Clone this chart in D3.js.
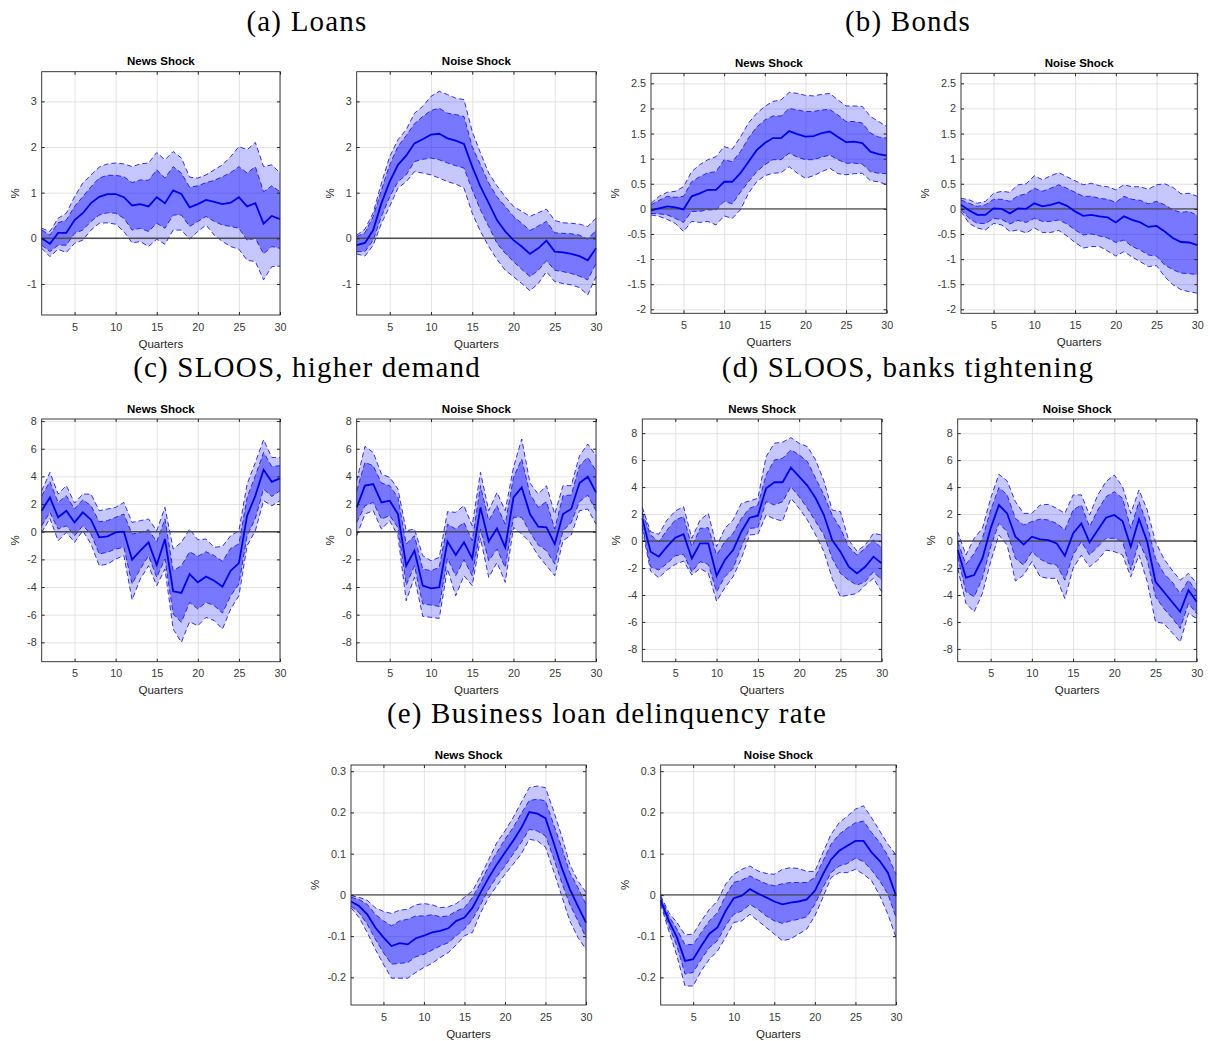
<!DOCTYPE html>
<html>
<head>
<meta charset="utf-8">
<script src="https://cdn.jsdelivr.net/npm/d3@7"></script>
<style>
  body { margin: 0; background: #fff; }
  svg { display: block; font-family: "Liberation Sans", Arial, Helvetica, sans-serif; }
  .heading { font-family: "Liberation Serif", "Times New Roman", serif; font-size: 29px; letter-spacing: 1.2px; fill: #000; }
  .ptitle { font-size: 11.5px; font-weight: bold; fill: #000; }
  .xlab, .ylab { font-size: 11.5px; fill: #262626; }
  .tick text { font-size: 10.8px; fill: #3a3a3a; }
</style>
</head>
<body>
<div id="chart"></div>
<script>
//quarters on the x axis and tick labels
const quarters = [1,2,3,4,5,6,7,8,9,10,11,12,13,14,15,16,17,18,19,20,21,22,23,24,25,26,27,28,29,30];
const quarterTicks = [5, 10, 15, 20, 25, 30];
const loansTicks = [-1, 0, 1, 2, 3];
const bondsTicks = [-2, -1.5, -1, -0.5, 0, 0.5, 1, 1.5, 2, 2.5];
const sloosTicks = [-8, -6, -4, -2, 0, 2, 4, 6, 8];
const delinqTicks = [-0.2, -0.1, 0, 0.1, 0.2, 0.3];

//panel headings
const headings = ["(a) Loans", "(b) Bonds", "(c) SLOOS, higher demand", "(d) SLOOS, banks tightening", "(e) Business loan delinquency rate"];

//(a) loans, news shock
const loansNewsMed = [0.0,-0.12,0.12,0.12,0.4,0.55,0.77,0.91,0.97,0.97,0.9,0.72,0.75,0.7,0.9,0.77,1.05,0.97,0.68,0.75,0.84,0.8,0.75,0.78,0.9,0.7,0.77,0.32,0.49,0.42];
const loansNewsHi68 = [0.18,0.07,0.34,0.4,0.7,0.91,1.13,1.32,1.38,1.38,1.35,1.22,1.28,1.27,1.5,1.32,1.57,1.43,1.12,1.15,1.22,1.27,1.35,1.44,1.57,1.43,1.57,1.02,1.15,1.02];
const loansNewsLo68 = [-0.15,-0.29,-0.15,-0.15,0.11,0.18,0.37,0.51,0.56,0.55,0.44,0.18,0.22,0.15,0.33,0.22,0.51,0.51,0.26,0.37,0.48,0.37,0.29,0.26,0.22,-0.04,0.0,-0.34,-0.18,-0.22];
const loansNewsHi90 = [0.22,0.15,0.44,0.55,0.91,1.21,1.39,1.56,1.63,1.65,1.63,1.57,1.63,1.65,1.88,1.72,1.9,1.76,1.34,1.32,1.39,1.5,1.61,1.79,2.01,1.94,2.1,1.57,1.61,1.43];
const loansNewsLo90 = [-0.22,-0.4,-0.24,-0.31,-0.11,-0.04,0.18,0.33,0.34,0.31,0.15,-0.1,-0.07,-0.18,-0.02,-0.13,0.18,0.18,-0.02,0.15,0.29,0.07,-0.07,-0.18,-0.24,-0.48,-0.51,-0.91,-0.62,-0.61];

//(a) loans, noise shock
const loansNoiseMed = [-0.15,-0.1,0.18,0.77,1.24,1.61,1.81,2.08,2.17,2.27,2.29,2.19,2.14,2.07,1.57,1.13,0.77,0.4,0.15,-0.04,-0.18,-0.34,-0.22,-0.05,-0.29,-0.31,-0.34,-0.39,-0.48,-0.22];
const loansNoiseHi68 = [0.04,0.12,0.48,1.06,1.61,2.01,2.25,2.51,2.67,2.8,2.85,2.74,2.71,2.67,2.01,1.61,1.21,0.91,0.7,0.48,0.33,0.17,0.27,0.37,0.12,0.11,0.1,0.07,-0.02,0.18];
const loansNoiseLo68 = [-0.29,-0.29,-0.04,0.48,0.91,1.24,1.39,1.68,1.73,1.76,1.72,1.65,1.59,1.54,1.06,0.62,0.26,-0.11,-0.33,-0.51,-0.68,-0.84,-0.7,-0.49,-0.7,-0.73,-0.77,-0.83,-0.91,-0.55];
const loansNoiseHi90 = [0.07,0.2,0.56,1.21,1.79,2.16,2.38,2.74,2.89,3.11,3.22,3.15,3.07,3.04,2.34,1.87,1.43,1.15,0.91,0.7,0.59,0.48,0.56,0.64,0.39,0.34,0.33,0.31,0.26,0.44];
const loansNoiseLo90 = [-0.34,-0.39,-0.15,0.33,0.7,1.1,1.24,1.46,1.43,1.39,1.32,1.24,1.19,1.1,0.55,0.15,-0.18,-0.46,-0.7,-0.84,-0.99,-1.15,-0.99,-0.73,-0.95,-0.99,-1.02,-1.08,-1.24,-0.84];

//(b) bonds, news shock
const bondsNewsMed = [-0.03,0.01,0.05,0.03,-0.01,0.25,0.31,0.38,0.38,0.54,0.54,0.71,0.94,1.17,1.31,1.41,1.41,1.55,1.49,1.44,1.45,1.51,1.54,1.43,1.33,1.34,1.31,1.14,1.09,1.06];
const bondsNewsHi68 = [0.08,0.17,0.25,0.23,0.25,0.54,0.64,0.72,0.74,0.98,0.94,1.14,1.41,1.63,1.77,1.85,1.85,2.0,1.97,1.94,1.94,1.97,1.98,1.87,1.74,1.74,1.71,1.51,1.43,1.41];
const bondsNewsLo68 = [-0.09,-0.1,-0.12,-0.19,-0.27,-0.05,-0.05,-0.02,-0.02,0.15,0.1,0.33,0.54,0.74,0.88,0.98,0.98,1.11,1.03,0.98,0.98,1.03,1.07,0.98,0.91,0.91,0.89,0.74,0.71,0.7];
const bondsNewsHi90 = [0.11,0.25,0.33,0.35,0.44,0.74,0.88,0.98,1.04,1.24,1.19,1.43,1.71,1.9,2.04,2.14,2.17,2.32,2.3,2.26,2.25,2.28,2.3,2.17,2.05,2.05,2.04,1.84,1.74,1.64];
const bondsNewsLo90 = [-0.12,-0.15,-0.21,-0.29,-0.45,-0.25,-0.27,-0.25,-0.32,-0.14,-0.19,-0.02,0.31,0.54,0.66,0.71,0.72,0.84,0.71,0.61,0.66,0.74,0.81,0.7,0.68,0.7,0.71,0.56,0.54,0.48];

//(b) bonds, noise shock
const bondsNoiseMed = [0.08,-0.03,-0.12,-0.12,0.01,0,-0.09,0.01,0,0.11,0.05,0.08,0.13,0.06,-0.05,-0.14,-0.12,-0.15,-0.17,-0.27,-0.15,-0.22,-0.27,-0.36,-0.34,-0.45,-0.58,-0.66,-0.67,-0.72];
const bondsNoiseHi68 = [0.18,0.11,0.05,0.08,0.19,0.19,0.15,0.26,0.3,0.41,0.35,0.41,0.48,0.41,0.33,0.25,0.25,0.21,0.19,0.13,0.25,0.19,0.17,0.1,0.15,0.08,-0.02,-0.07,-0.05,-0.13];
const bondsNoiseLo68 = [-0.01,-0.19,-0.29,-0.29,-0.19,-0.21,-0.3,-0.23,-0.27,-0.19,-0.25,-0.25,-0.22,-0.3,-0.42,-0.52,-0.5,-0.54,-0.58,-0.67,-0.62,-0.75,-0.82,-0.92,-0.94,-1.12,-1.21,-1.28,-1.29,-1.31];
const bondsNoiseHi90 = [0.21,0.18,0.11,0.15,0.31,0.35,0.33,0.48,0.5,0.66,0.58,0.66,0.72,0.64,0.56,0.48,0.51,0.46,0.44,0.38,0.48,0.44,0.44,0.39,0.48,0.5,0.43,0.3,0.31,0.25];
const bondsNoiseLo90 = [-0.05,-0.29,-0.38,-0.42,-0.29,-0.32,-0.45,-0.42,-0.48,-0.38,-0.47,-0.47,-0.43,-0.54,-0.67,-0.78,-0.75,-0.75,-0.84,-0.94,-0.85,-0.96,-1.05,-1.15,-1.13,-1.35,-1.51,-1.61,-1.65,-1.68];

//(c) SLOOS higher demand, news shock
const demandNewsMed = [1.52,2.48,1.04,1.52,0.67,1.4,0.87,-0.41,-0.34,-0.05,0,-2.02,-1.37,-0.77,-2.41,-0.53,-4.31,-4.43,-3.06,-3.66,-3.25,-3.54,-3.98,-2.82,-2.27,1.16,2.6,4.48,3.61,3.86];
const demandNewsHi68 = [2.6,3.61,2.12,2.6,1.64,2.31,1.88,0.72,0.8,1.04,1.28,-0.17,-0.05,0.14,-0.72,0.92,-2.82,-2.46,-1.45,-1.78,-1.45,-1.73,-2.14,-1.2,-0.89,2.48,4.05,5.73,4.72,4.77];
const demandNewsLo68 = [0.43,1.4,0.19,0.43,-0.29,0.43,-0.17,-1.61,-1.49,-1.25,-1.13,-3.78,-2.7,-1.73,-3.3,-1.98,-5.95,-6.55,-5.11,-5.59,-5.11,-5.35,-5.88,-4.63,-3.78,-0.29,0.96,3.08,2.55,2.96];
const demandNewsHi90 = [2.96,4.29,2.72,3.33,2.07,2.72,2.72,1.52,1.64,1.76,2.12,0.67,0.8,0.92,0.07,1.76,-1.25,-0.77,0.19,-0.58,-0.53,-1.13,-1.06,-0.29,0.07,3.45,5.01,6.65,5.37,5.37];
const demandNewsLo90 = [-0.05,0.96,-0.65,-0.05,-0.77,0.07,-0.89,-2.46,-2.34,-1.98,-1.73,-4.92,-3.42,-2.46,-3.9,-2.7,-7.04,-8.0,-6.51,-6.8,-6.19,-6.43,-7.04,-5.59,-4.63,-1.01,0.07,2.24,1.88,2.24];

//(c) SLOOS higher demand, noise shock
const demandNoiseMed = [1.76,3.33,3.45,2.12,2.24,1.28,-2.46,-1.37,-3.9,-4.1,-4.02,-0.7,-1.69,-0.77,-1.93,1.76,-0.7,0.24,-1.13,2.48,3.2,1.28,0.36,0.31,-0.89,1.28,1.64,3.52,3.98,2.84];
const demandNoiseHi68 = [2.96,5.01,4.77,3.52,3.33,2.48,-0.89,-0.29,-2.7,-2.82,-2.58,0.55,0.19,0.67,-0.65,3.33,0.8,1.88,0.55,3.93,5.25,2.72,1.76,2.17,0.19,2.6,2.65,4.77,5.37,4.41];
const demandNoiseLo68 = [0.67,1.88,2.12,0.92,1.16,0.31,-3.86,-2.46,-5.23,-5.3,-5.4,-1.93,-3.18,-2.02,-3.18,0.19,-2.1,-1.25,-2.58,1.04,1.04,-0.05,-0.96,-1.37,-2.34,0.07,0.67,2.17,2.65,1.52];
const demandNoiseHi90 = [3.69,6.17,5.73,4.17,3.93,3.08,0.07,0.19,-1.73,-2.1,-1.86,1.45,1.4,1.88,0.43,4.29,1.52,2.84,1.52,4.65,6.7,3.52,2.72,3.33,1.28,3.33,3.33,5.49,6.34,5.49];
const demandNoiseLo90 = [-0.29,1.28,1.52,0.19,0.8,-0.29,-4.99,-3.3,-6.12,-6.19,-6.27,-2.7,-4.63,-3.18,-3.9,-0.48,-3.3,-2.22,-3.66,0.31,-0.17,-0.77,-1.73,-2.46,-3.18,-0.65,-0.24,1.52,1.64,0.55];

//(d) SLOOS banks tightening, news shock
const tightNewsMed = [1.68,-0.79,-1.16,-0.42,0.25,0.5,-1.29,-0.17,-0.17,-2.57,-1.41,-0.67,0.69,1.73,1.88,3.91,4.36,4.36,5.45,4.78,4.11,3.17,1.93,0.07,-0.79,-1.91,-2.4,-1.91,-1.16,-1.66];
const tightNewsHi68 = [2.1,0.45,-0.05,0.82,1.56,1.81,-0.42,0.94,0.99,-1.04,-0.05,0.57,1.68,2.43,2.67,4.9,6.01,6.14,6.76,6.39,5.89,4.65,3.42,1.93,0.94,-0.42,-1.04,-0.54,0.07,-0.54];
const tightNewsLo68 = [1.2,-1.91,-2.15,-1.66,-1.09,-0.99,-2.28,-1.53,-1.73,-3.76,-2.65,-2.03,-0.42,0.94,0.99,2.92,2.67,2.92,4.03,3.29,2.43,1.44,0.45,-1.29,-2.4,-2.9,-3.27,-3.02,-2.28,-2.9];
const tightNewsHi90 = [2.5,0.69,0.5,1.56,2.23,2.55,0.2,1.56,2.05,-0.42,0.94,1.56,2.8,2.97,3.17,6.26,7.25,7.33,7.67,7.25,7.0,6.01,4.46,2.3,2.18,0.07,-0.74,-0.3,0.57,0.45];
const tightNewsLo90 = [0.9,-2.23,-2.72,-2.15,-1.73,-1.49,-2.52,-2.03,-2.4,-4.46,-3.47,-2.65,-1.29,0.45,0.5,1.93,1.63,1.49,3.17,2.43,1.56,0.45,-0.79,-2.77,-4.13,-4.01,-3.89,-3.27,-2.77,-3.76];

//(d) SLOOS banks tightening, noise shock
const tightNoiseMed = [-0.67,-2.72,-2.52,-1.29,0.94,2.67,2.05,0.32,-0.25,0.32,0.12,0.07,-0.17,-1.09,0.57,1.31,-0.1,0.82,1.73,1.93,1.49,-0.42,1.63,-0.05,-3.02,-3.76,-4.5,-5.25,-3.64,-4.5];
const tightNoiseHi68 = [-0.05,-1.73,-0.92,0.2,2.3,3.96,3.42,1.68,1.19,1.44,1.63,1.56,1.31,0.82,2.3,2.67,1.06,2.3,3.29,3.66,3.17,0.94,2.92,1.19,-1.29,-2.4,-3.02,-3.89,-2.9,-3.76];
const tightNoiseLo68 = [-1.16,-3.76,-4.13,-2.77,-0.42,1.31,0.69,-1.29,-1.78,-0.79,-1.34,-1.66,-1.78,-2.9,-1.04,-0.05,-1.04,-0.42,0.2,0.2,-0.05,-2.15,-0.05,-1.41,-4.13,-5.0,-5.69,-6.49,-4.63,-5.37];
const tightNoiseHi90 = [0.69,-1.04,0.2,0.94,3.17,4.95,4.46,2.92,2.05,2.05,2.67,2.72,2.43,2.05,3.42,3.42,1.93,3.42,4.41,4.9,4.03,2.05,3.79,2.3,-0.05,-1.29,-2.15,-2.9,-2.4,-3.14];
const tightNoiseLo90 = [-2.03,-4.63,-5.25,-3.89,-1.53,0.45,-0.3,-2.97,-2.52,-1.53,-2.65,-2.77,-2.77,-4.26,-2.03,-1.04,-1.91,-1.41,-0.67,-0.79,-1.04,-2.65,-1.04,-3.02,-5.99,-6.11,-6.78,-7.48,-5.37,-5.74];

//(e) delinquency rate, news shock
const delinqNewsMed = [-0.016,-0.027,-0.047,-0.079,-0.103,-0.124,-0.117,-0.12,-0.105,-0.099,-0.091,-0.087,-0.081,-0.063,-0.055,-0.031,0.006,0.042,0.074,0.103,0.131,0.162,0.201,0.197,0.186,0.127,0.066,0.014,-0.027,-0.067];
const delinqNewsHi68 = [-0.006,-0.011,-0.023,-0.047,-0.063,-0.075,-0.063,-0.059,-0.051,-0.051,-0.048,-0.053,-0.051,-0.039,-0.031,-0.006,0.03,0.07,0.103,0.135,0.163,0.197,0.229,0.232,0.228,0.171,0.115,0.054,0.018,-0.023];
const delinqNewsLo68 = [-0.027,-0.043,-0.071,-0.107,-0.14,-0.168,-0.166,-0.164,-0.15,-0.144,-0.134,-0.124,-0.116,-0.099,-0.083,-0.059,-0.023,0.014,0.044,0.07,0.099,0.127,0.159,0.155,0.143,0.09,0.03,-0.023,-0.063,-0.103];
const delinqNewsHi90 = [-0.002,-0.006,-0.013,-0.031,-0.04,-0.045,-0.037,-0.035,-0.024,-0.021,-0.024,-0.031,-0.029,-0.021,-0.006,0.01,0.046,0.086,0.127,0.155,0.187,0.224,0.26,0.264,0.26,0.204,0.143,0.074,0.034,0.006];
const delinqNewsLo90 = [-0.031,-0.055,-0.091,-0.132,-0.168,-0.202,-0.202,-0.202,-0.188,-0.176,-0.166,-0.152,-0.14,-0.121,-0.099,-0.091,-0.043,-0.006,0.022,0.05,0.074,0.099,0.135,0.131,0.116,0.058,-0.002,-0.063,-0.103,-0.132];

//(e) delinquency rate, noise shock
const delinqNoiseMed = [-0.013,-0.063,-0.103,-0.16,-0.156,-0.124,-0.094,-0.079,-0.039,-0.008,-0.002,0.014,0.003,-0.006,-0.016,-0.023,-0.019,-0.016,-0.011,0.01,0.05,0.086,0.107,0.119,0.131,0.131,0.103,0.082,0.054,-0.002];
const delinqNoiseHi68 = [-0.006,-0.051,-0.083,-0.121,-0.12,-0.091,-0.063,-0.043,-0.002,0.03,0.036,0.046,0.036,0.027,0.022,0.027,0.03,0.03,0.03,0.042,0.082,0.123,0.147,0.162,0.175,0.179,0.151,0.127,0.095,0.05];
const delinqNoiseLo68 = [-0.019,-0.075,-0.124,-0.192,-0.188,-0.156,-0.128,-0.111,-0.075,-0.047,-0.039,-0.023,-0.035,-0.051,-0.063,-0.069,-0.063,-0.059,-0.053,-0.023,0.018,0.054,0.07,0.076,0.089,0.081,0.06,0.034,0.002,-0.055];
const delinqNoiseHi90 = [-0.002,-0.043,-0.067,-0.097,-0.095,-0.063,-0.035,-0.015,0.026,0.05,0.062,0.07,0.058,0.052,0.05,0.062,0.066,0.064,0.057,0.057,0.103,0.147,0.175,0.191,0.208,0.216,0.187,0.155,0.123,0.097];
const delinqNoiseLo90 = [-0.023,-0.087,-0.148,-0.221,-0.221,-0.184,-0.156,-0.136,-0.103,-0.067,-0.063,-0.047,-0.063,-0.079,-0.095,-0.111,-0.107,-0.095,-0.083,-0.051,-0.006,0.042,0.054,0.054,0.062,0.05,0.034,-0.002,-0.047,-0.103];

//svg size
var svgWidth = 1210;
var svgHeight = 1041;

const svg = d3.select("#chart")
  .append("svg")
  .attr("width", svgWidth)
  .attr("height", svgHeight);

//heading positions (centre x, baseline y)
const headingPos = [[307, 31], [908, 31], [307, 377], [908, 377], [607, 723]];

svg.selectAll(".heading")
  .data(headings)
  .enter()
  .append("text")
  .classed("heading", true)
  .attr("x", (d, i) => headingPos[i][0])
  .attr("y", (d, i) => headingPos[i][1])
  .attr("text-anchor", "middle")
  .text(d => d);

//panel layout: box = [left, top, right, bottom]
const panels = [
  { title: "News Shock", box: [41.7, 71.7, 280, 315], dom: [-1.68, 3.65], ticks: loansTicks,
    med: loansNewsMed, lo68: loansNewsLo68, hi68: loansNewsHi68, lo90: loansNewsLo90, hi90: loansNewsHi90 },
  { title: "Noise Shock", box: [356.7, 71.7, 596, 315], dom: [-1.68, 3.65], ticks: loansTicks,
    med: loansNoiseMed, lo68: loansNoiseLo68, hi68: loansNoiseHi68, lo90: loansNoiseLo90, hi90: loansNoiseHi90 },
  { title: "News Shock", box: [651, 73.3, 886.7, 313.3], dom: [-2.08, 2.7], ticks: bondsTicks,
    med: bondsNewsMed, lo68: bondsNewsLo68, hi68: bondsNewsHi68, lo90: bondsNewsLo90, hi90: bondsNewsHi90 },
  { title: "Noise Shock", box: [961, 73.3, 1197.3, 313.3], dom: [-2.08, 2.7], ticks: bondsTicks,
    med: bondsNoiseMed, lo68: bondsNoiseLo68, hi68: bondsNoiseHi68, lo90: bondsNoiseLo90, hi90: bondsNoiseHi90 },
  { title: "News Shock", box: [41.7, 419, 280, 661.7], dom: [-9.4, 8.15], ticks: sloosTicks,
    med: demandNewsMed, lo68: demandNewsLo68, hi68: demandNewsHi68, lo90: demandNewsLo90, hi90: demandNewsHi90 },
  { title: "Noise Shock", box: [356.7, 419, 596, 661.7], dom: [-9.4, 8.15], ticks: sloosTicks,
    med: demandNoiseMed, lo68: demandNoiseLo68, hi68: demandNoiseHi68, lo90: demandNoiseLo90, hi90: demandNoiseHi90 },
  { title: "News Shock", box: [642.3, 419, 881.7, 661.7], dom: [-8.95, 9.05], ticks: sloosTicks,
    med: tightNewsMed, lo68: tightNewsLo68, hi68: tightNewsHi68, lo90: tightNewsLo90, hi90: tightNewsHi90 },
  { title: "Noise Shock", box: [957.7, 419, 1196.7, 661.7], dom: [-8.95, 9.05], ticks: sloosTicks,
    med: tightNoiseMed, lo68: tightNoiseLo68, hi68: tightNoiseHi68, lo90: tightNoiseLo90, hi90: tightNoiseHi90 },
  { title: "News Shock", box: [351, 765, 586, 1005], dom: [-0.267, 0.315], ticks: delinqTicks,
    med: delinqNewsMed, lo68: delinqNewsLo68, hi68: delinqNewsHi68, lo90: delinqNewsLo90, hi90: delinqNewsHi90 },
  { title: "Noise Shock", box: [660.7, 765, 896, 1005], dom: [-0.267, 0.315], ticks: delinqTicks,
    med: delinqNoiseMed, lo68: delinqNoiseLo68, hi68: delinqNoiseHi68, lo90: delinqNoiseLo90, hi90: delinqNoiseHi90 }
];

//draw one impulse response panel
function drawPanel(p) {
  const [x0, y0, x1, y1] = p.box;
  const w = x1 - x0, h = y1 - y0;

  const x = d3.scaleLinear().domain([1, 30]).range([x0, x1]);
  const y = d3.scaleLinear().domain(p.dom).range([y1, y0]);

  const g = svg.append("g");

  //grid lines
  const gx = g.append("g")
    .attr("transform", `translate(0, ${y1})`)
    .call(d3.axisBottom(x).tickValues(quarterTicks).tickSize(-h).tickFormat(""));
  const gy = g.append("g")
    .attr("transform", `translate(${x0}, 0)`)
    .call(d3.axisLeft(y).tickValues(p.ticks).tickSize(-w).tickFormat(""));
  [gx, gy].forEach(a => {
    a.select(".domain").remove();
    a.selectAll("line").attr("stroke", "#dcdcdc").attr("stroke-width", 0.8);
  });

  const rows = quarters.map((q, i) => ({
    q: q, med: p.med[i], lo68: p.lo68[i], hi68: p.hi68[i], lo90: p.lo90[i], hi90: p.hi90[i]
  }));

  //outer band
  g.append("path")
    .datum(rows)
    .attr("fill", "#0000ff")
    .attr("fill-opacity", 0.22)
    .attr("d", d3.area().x(d => x(d.q)).y0(d => y(d.lo90)).y1(d => y(d.hi90)));

  //inner band
  g.append("path")
    .datum(rows)
    .attr("fill", "#0000ff")
    .attr("fill-opacity", 0.4)
    .attr("d", d3.area().x(d => x(d.q)).y0(d => y(d.lo68)).y1(d => y(d.hi68)));

  //dashed band edges
  ["lo90", "hi90", "lo68", "hi68"].forEach(k => {
    g.append("path")
      .datum(rows)
      .attr("fill", "none")
      .attr("stroke", "#1a1aff")
      .attr("stroke-width", 0.9)
      .attr("stroke-dasharray", "5,3")
      .attr("d", d3.line().x(d => x(d.q)).y(d => y(d[k])));
  });

  //zero line
  g.append("line")
    .attr("x1", x(quarters[0]))
    .attr("x2", x(quarters[quarters.length - 1]))
    .attr("y1", y(0))
    .attr("y2", y(0))
    .attr("stroke", "#4d4d4d")
    .attr("stroke-width", 1.4);

  //median response
  g.append("path")
    .datum(rows)
    .attr("fill", "none")
    .attr("stroke", "#0000f0")
    .attr("stroke-width", 1.8)
    .attr("d", d3.line().x(d => x(d.q)).y(d => y(d.med)));

  //axes with inward ticks on all sides
  const fmt = d => String(d);
  const bottom = g.append("g")
    .attr("transform", `translate(0, ${y1})`)
    .call(d3.axisBottom(x).tickValues(quarterTicks).tickSizeInner(-3).tickSizeOuter(0).tickPadding(8).tickFormat(fmt));
  const left = g.append("g")
    .attr("transform", `translate(${x0}, 0)`)
    .call(d3.axisLeft(y).tickValues(p.ticks).tickSizeInner(-3).tickSizeOuter(0).tickPadding(5).tickFormat(fmt));
  const top = g.append("g")
    .attr("transform", `translate(0, ${y0})`)
    .call(d3.axisTop(x).tickValues(quarterTicks).tickSizeInner(-3).tickSizeOuter(0).tickFormat(""));
  const right = g.append("g")
    .attr("transform", `translate(${x1}, 0)`)
    .call(d3.axisRight(y).tickValues(p.ticks).tickSizeInner(-3).tickSizeOuter(0).tickFormat(""));
  [bottom, left, top, right].forEach(a => {
    a.select(".domain").remove();
    a.selectAll("line").attr("stroke", "#262626");
    a.attr("font-family", null).attr("font-size", null);
  });

  //box
  g.append("rect")
    .attr("x", x0).attr("y", y0)
    .attr("width", w).attr("height", h)
    .attr("fill", "none")
    .attr("stroke", "#262626")
    .attr("stroke-width", 0.9);

  //title
  g.append("text")
    .classed("ptitle", true)
    .attr("x", (x0 + x1) / 2)
    .attr("y", y0 - 6.5)
    .attr("text-anchor", "middle")
    .text(p.title);

  //x label
  g.append("text")
    .classed("xlab", true)
    .attr("x", (x0 + x1) / 2)
    .attr("y", y1 + 32.5)
    .attr("text-anchor", "middle")
    .text("Quarters");

  //y label placed left of the widest tick label
  let maxW = 0;
  left.selectAll("text").each(function() { maxW = Math.max(maxW, this.getComputedTextLength()); });
  g.append("text")
    .classed("ylab", true)
    .attr("transform", `translate(${x0 - 5 - maxW - 12}, ${(y0 + y1) / 2}) rotate(-90)`)
    .attr("text-anchor", "middle")
    .attr("dy", "0.35em")
    .text("%");
}

panels.forEach(drawPanel);
</script>
</body>
</html>
